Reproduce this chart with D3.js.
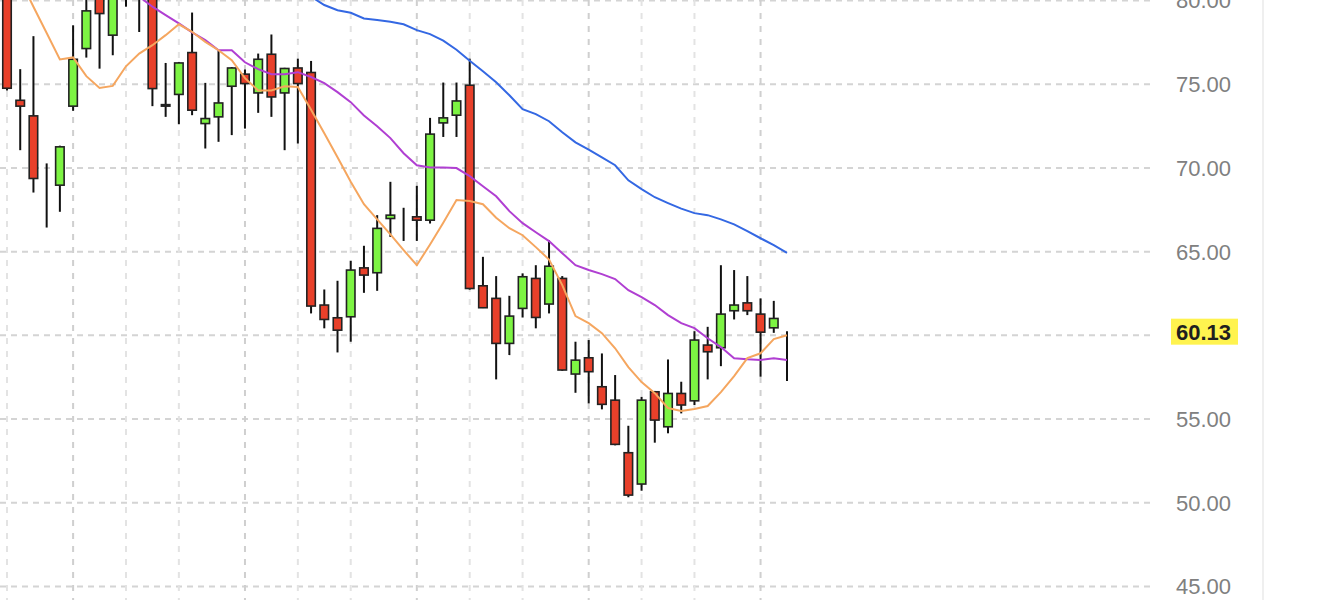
<!DOCTYPE html>
<html>
<head>
<meta charset="utf-8">
<script src="https://cdn.jsdelivr.net/npm/d3@7/dist/d3.min.js"></script>
<style>
  html, body { margin: 0; padding: 0; background: #fff; }
  svg { display: block; }
</style>
</head>
<body>
<svg id="chart" width="1330" height="600"></svg>
<script>
// ---- data ----
const sessions = d3.range(60); // trading-day index
const opens  = [80.6,74.01,73.08,69.0,68.94,73.66,77.1,80.4,77.9,81.0,80.5,80.5,73.75,74.36,76.86,72.62,73.02,74.85,75.57,74.45,76.76,74.45,75.94,75.67,61.78,61.02,61.08,64.0,63.71,66.95,66.85,67.05,66.85,72.66,73.12,74.91,62.93,62.18,59.49,61.58,63.37,61.84,63.37,57.66,58.63,56.9,56.1,52.96,51.09,56.6,54.51,56.5,56.06,59.39,59.23,61.44,61.91,61.24,60.42,60.13];
const highs  = [81.2,75.87,77.84,70.24,71.3,78.49,80.6,81.0,81.0,82.0,81.5,81.0,76.24,76.3,79.25,75.05,77.0,76.0,75.85,76.8,77.94,75.95,76.5,76.36,62.71,63.23,64.42,65.32,67.15,69.14,67.59,68.9,72.96,75.07,75.07,76.5,64.66,63.51,62.33,63.67,64.16,65.66,63.51,59.59,59.69,58.89,57.6,54.57,56.3,56.65,58.53,57.2,60.22,60.48,64.16,63.87,63.51,62.18,62.03,60.22];
const lows   = [74.6,71.03,68.5,66.41,67.35,73.38,76.56,75.9,76.7,79.6,78.09,73.66,73.02,72.58,73.12,71.13,71.53,71.93,72.32,73.26,73.02,71.03,71.43,61.28,60.39,58.95,59.59,62.51,62.63,65.85,65.61,65.61,66.65,71.82,71.82,62.7,61.6,57.34,58.79,61.04,60.39,61.28,57.85,56.54,55.91,55.55,53.4,50.3,50.69,53.56,54.12,55.31,55.81,57.34,58.13,60.92,61.18,57.5,60.12,57.24];
const closes = [74.73,73.66,69.34,69.0,71.23,76.46,79.35,79.19,80.6,80.7,81.0,74.71,73.66,76.24,73.42,72.92,73.85,75.94,75.01,76.46,74.21,75.91,75.01,61.72,60.92,60.28,63.87,63.57,66.36,67.15,66.85,66.85,71.99,72.96,73.97,62.77,61.62,59.49,61.12,63.47,61.04,64.1,57.9,58.49,57.8,55.85,53.46,50.43,56.1,54.91,56.5,55.81,59.69,58.99,61.24,61.78,61.44,60.16,60.98,60.13];

const maShort = [null,81.2,79.6,78.03,76.45,76.57,75.45,74.75,74.87,76.04,76.8,77.3,77.9,78.55,78.1,77.5,77.0,76.4,75.33,74.6,74.6,74.85,74.8,73.45,72.04,70.61,69.15,67.8,66.9,66.0,65.06,64.16,65.4,66.7,68.05,68.0,67.8,67.0,66.37,65.95,65.24,64.5,62.97,61.12,60.7,60.1,59.2,58.07,57.18,56.52,55.63,55.45,55.57,55.75,56.58,57.54,58.61,58.9,59.75,59.98];
const maMid   = [null,null,null,null,null,null,null,null,null,null,80.2,79.6,79.1,78.6,78.07,77.6,77.0,77.0,76.28,75.87,75.57,75.57,75.69,75.4,75.03,74.5,73.9,73.1,72.46,71.75,70.85,70.13,70.0,70.0,69.96,69.48,68.88,68.28,67.39,66.67,66.13,65.6,64.88,64.16,63.87,63.63,63.33,62.67,62.25,61.78,61.18,60.7,60.4,59.8,59.27,58.6,58.54,58.5,58.6,58.5];
const maLong  = [null,null,null,null,null,null,null,null,null,null,null,null,null,null,null,null,null,null,null,null,null,null,null,80.2,79.7,79.39,79.24,78.9,78.8,78.7,78.55,78.2,77.96,77.57,77.03,76.37,75.75,75.09,74.31,73.48,73.18,72.76,72.1,71.5,71.06,70.6,70.13,69.23,68.7,68.22,67.87,67.54,67.27,67.15,66.9,66.6,66.2,65.77,65.36,64.9];

const yTicks = [45, 50, 55, 60, 65, 70, 75, 80];
const yTickLabels = ["45.00","50.00","55.00","60.00","65.00","70.00","75.00","80.00"];
const weekStarts = [0, 5, 9, 13, 18, 22, 26, 31, 35, 39, 44, 48, 52, 57];
const monthStarts = [5, 18, 31, 44, 57];
const lastPrice = 60.13;
const lastPriceLabel = "60.13";

// ---- layout ----
const svg = d3.select("#chart");
const plotRight = 1153;
const x = d3.scaleLinear().domain([0, 59]).range([7, 787]);
const y = d3.scaleLinear().domain([45, 80]).range([586, 0]);

const clip = svg.append("defs").append("clipPath").attr("id", "plotclip")
  .append("rect").attr("x", 0).attr("y", 0).attr("width", plotRight).attr("height", 600);

// horizontal grid via axis
const yGrid = d3.axisRight(y).tickValues(yTicks).tickSize(plotRight).tickFormat("");
const gGrid = svg.append("g").attr("class", "ygrid").call(yGrid);
gGrid.select(".domain").remove();
gGrid.selectAll("line").attr("stroke", "#d4d4d4").attr("stroke-width", 2).attr("stroke-dasharray", "6,5");

// vertical grid
svg.append("g").selectAll("line").data(weekStarts).join("line")
  .attr("x1", d => x(d)).attr("x2", d => x(d))
  .attr("y1", 0).attr("y2", 600)
  .attr("stroke", d => monthStarts.includes(d) ? "#cfcfcf" : "#e3e3e3")
  .attr("stroke-width", 2)
  .attr("stroke-dasharray", "6,7");

// right divider
svg.append("line").attr("x1", 1263).attr("x2", 1263).attr("y1", 0).attr("y2", 600)
  .attr("stroke", "#efefef").attr("stroke-width", 2);

// y labels
const yAxis = d3.axisRight(y).tickValues(yTicks).tickSize(0).tickPadding(0)
  .tickFormat((d, i) => yTickLabels[i]);
const gAxis = svg.append("g").attr("transform", "translate(1176,0)").call(yAxis);
gAxis.select(".domain").remove();
gAxis.selectAll("text")
  .attr("fill", "#808080")
  .style("font-family", "'Liberation Sans', Arial, sans-serif")
  .style("font-size", "22px")
  .attr("dy", "0.36em")
  .attr("text-anchor", "start")
  .attr("x", 0)
  .filter(d => d === 60).remove();

// candles
const plot = svg.append("g").attr("clip-path", "url(#plotclip)");
const bodyW = 8.5;
const cg = plot.append("g").selectAll("g").data(sessions).join("g");
cg.append("line")
  .attr("x1", i => x(i)).attr("x2", i => x(i))
  .attr("y1", i => y(highs[i])).attr("y2", i => y(lows[i]))
  .attr("stroke", "#111").attr("stroke-width", 2);
cg.append("rect")
  .attr("x", i => x(i) - bodyW / 2)
  .attr("width", bodyW)
  .attr("y", i => y(Math.max(opens[i], closes[i])))
  .attr("height", i => Math.abs(y(opens[i]) - y(closes[i])))
  .attr("fill", i => closes[i] >= opens[i] ? "#7df443" : "#e8402a")
  .attr("stroke", "#222")
  .attr("stroke-width", 1.6);

// moving averages
const lineGen = arr => d3.line()
  .defined(i => arr[i] !== null)
  .x(i => x(i)).y(i => y(arr[i]))(sessions);
plot.append("path").attr("d", lineGen(maLong)).attr("fill", "none").attr("stroke", "#3468e3").attr("stroke-width", 2);
plot.append("path").attr("d", lineGen(maMid)).attr("fill", "none").attr("stroke", "#b03fd2").attr("stroke-width", 2);
plot.append("path").attr("d", lineGen(maShort)).attr("fill", "none").attr("stroke", "#f5a65f").attr("stroke-width", 2);

// last price label
const lp = svg.append("g");
lp.append("rect").attr("x", 1171).attr("y", y(lastPrice) - 14).attr("width", 67).attr("height", 26)
  .attr("fill", "#fff34f");
lp.append("text").attr("x", 1176).attr("y", y(lastPrice) - 1).attr("dy", "0.36em")
  .attr("fill", "#1f1f1f")
  .style("font-family", "'Liberation Sans', Arial, sans-serif")
  .style("font-size", "22px").style("font-weight", "bold")
  .text(lastPriceLabel);
</script>
</body>
</html>
